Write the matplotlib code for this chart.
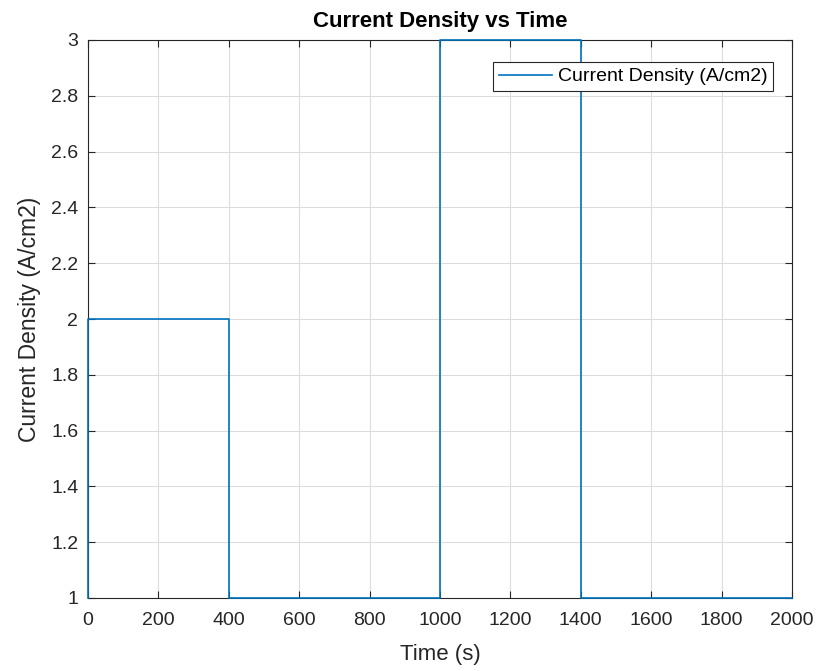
import matplotlib
matplotlib.use("Agg")
import matplotlib.pyplot as plt

plt.rcParams['font.family'] = ['Liberation Sans', 'DejaVu Sans']

# Piecewise-constant current density profile (value holds until next time)
time_s = [0, 1, 400, 1000, 1400, 2000]
current_density = [1, 2, 1, 3, 1, 1]

x_ticks = [0, 200, 400, 600, 800, 1000, 1200, 1400, 1600, 1800, 2000]
y_ticks = [1, 1.2, 1.4, 1.6, 1.8, 2, 2.2, 2.4, 2.6, 2.8, 3]

AX_L, AX_R, AX_T, AX_B = 88, 792, 40, 598
W, H = 819, 671

fig = plt.figure(figsize=(W / 100, H / 100), dpi=100)
ax = fig.add_axes([AX_L / W, 1 - AX_B / H, (AX_R - AX_L) / W, (AX_B - AX_T) / H])

ax.plot(time_s, current_density, drawstyle='steps-post', color='#0072BD',
        linewidth=1.2, label='Current Density (A/cm2)', clip_on=False, zorder=3)

ax.set_xlim(0, 2000)
ax.set_ylim(1, 3)
ax.set_xticks(x_ticks)
ax.set_yticks(y_ticks)
ax.set_yticklabels([f"{v:g}" for v in y_ticks])
ax.grid(True, color='#dcdcdc', linewidth=0.8)
ax.set_axisbelow(True)
ax.tick_params(direction='in', length=5, width=0.8, colors='#262626',
               labelsize=14, top=True, right=True, labeltop=False, labelright=False)
ax.tick_params(axis='x', pad=10)
ax.tick_params(axis='y', pad=7)
for sp in ax.spines.values():
    sp.set_color('#262626')
    sp.set_linewidth(0.8)

ax.set_xlabel('Time (s)', fontsize=16, color='#262626', labelpad=11)
ax.set_ylabel('Current Density (A/cm2)', fontsize=16.5, color='#262626', labelpad=7)
ax.set_title('Current Density vs Time', fontsize=16, fontweight='bold', color='#000000', pad=9)

leg = ax.legend(loc='upper right',
                bbox_to_anchor=((773 - AX_L) / (AX_R - AX_L), (AX_B - 62) / (AX_B - AX_T)),
                fontsize=14, fancybox=False, framealpha=1, edgecolor='#262626',
                handlelength=2.7, borderpad=0.3, handletextpad=0.3, borderaxespad=0)
leg.get_frame().set_linewidth(0.8)

fig.savefig('out.png', dpi=100)
